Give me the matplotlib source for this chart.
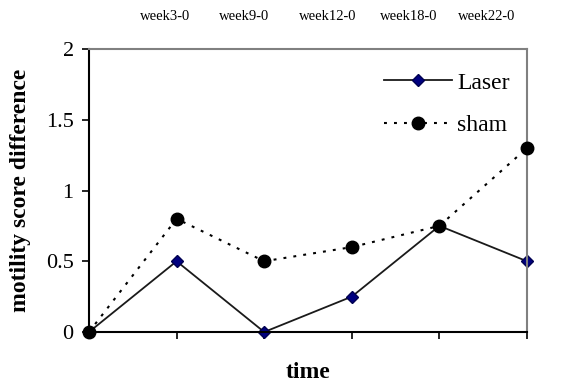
import matplotlib.pyplot as plt

# values
time_points = [0, 1, 2, 3, 4, 5]
laser = [0, 0.5, 0, 0.25, 0.75, 0.5]
sham = [0, 0.8, 0.5, 0.6, 0.75, 1.3]
week_labels = ["week3-0", "week9-0", "week12-0", "week18-0", "week22-0"]
week_label_x = [165, 244, 328, 409, 487]  # pixel centres in the original

plt.rcParams['font.family'] = ['Liberation Serif', 'DejaVu Serif']

fig = plt.figure(figsize=(5.61, 3.83), dpi=100)
ax = fig.add_axes([89 / 561, 1 - 332 / 383, (527 - 89) / 561, (332 - 49) / 383])

ax.plot(time_points, laser, color='#1a1a1a', linewidth=1.3, marker='D',
        markersize=6.5, markerfacecolor='#000080', markeredgecolor='#000050',
        label='Laser', clip_on=False, zorder=2)
ax.plot(time_points, sham, color='black', linewidth=1.5, linestyle=(0, (1.4, 3.4)),
        marker='o', markersize=9, markerfacecolor='black',
        markeredgecolor='black', label='sham', clip_on=False, zorder=3)

ax.set_xlim(0, 5)
ax.set_ylim(0, 2)
ax.set_yticks([0, 0.5, 1, 1.5, 2])
ax.set_yticklabels(["0", "0.5", "1", "1.5", "2"], fontsize=16)
ax.set_xticks(time_points)
ax.set_xticklabels([])
ax.tick_params(axis='both', direction='out', length=5, width=1.2, color='black')
ax.tick_params(axis='y', pad=6)

for side in ['top', 'right']:
    ax.spines[side].set_color('#808080')
    ax.spines[side].set_linewidth(1.5)
for side in ['left', 'bottom']:
    ax.spines[side].set_color('black')
    ax.spines[side].set_linewidth(1.5)

ax.set_ylabel("motility score difference", fontsize=17, fontweight='bold')
ax.yaxis.set_label_coords(-(89 - 21) / 438, 0.5)
ax.yaxis.label.set_va('center')
ax.set_xlabel("time", fontsize=17, fontweight='bold')
ax.xaxis.set_label_coords(0.5, -(372 - 332) / 283)
ax.xaxis.label.set_va('center')

for lbl, px in zip(week_labels, week_label_x):
    fig.text(px / 561, 1 - 17 / 383, lbl, fontsize=10.5, ha='center', va='center')

ax.legend(loc='upper left', bbox_to_anchor=((372 - 89) / 438, 0.96), frameon=False,
          fontsize=17, handlelength=2.9, handletextpad=0.2, labelspacing=0.9,
          borderpad=0)

fig.savefig('out.png', dpi=100)
